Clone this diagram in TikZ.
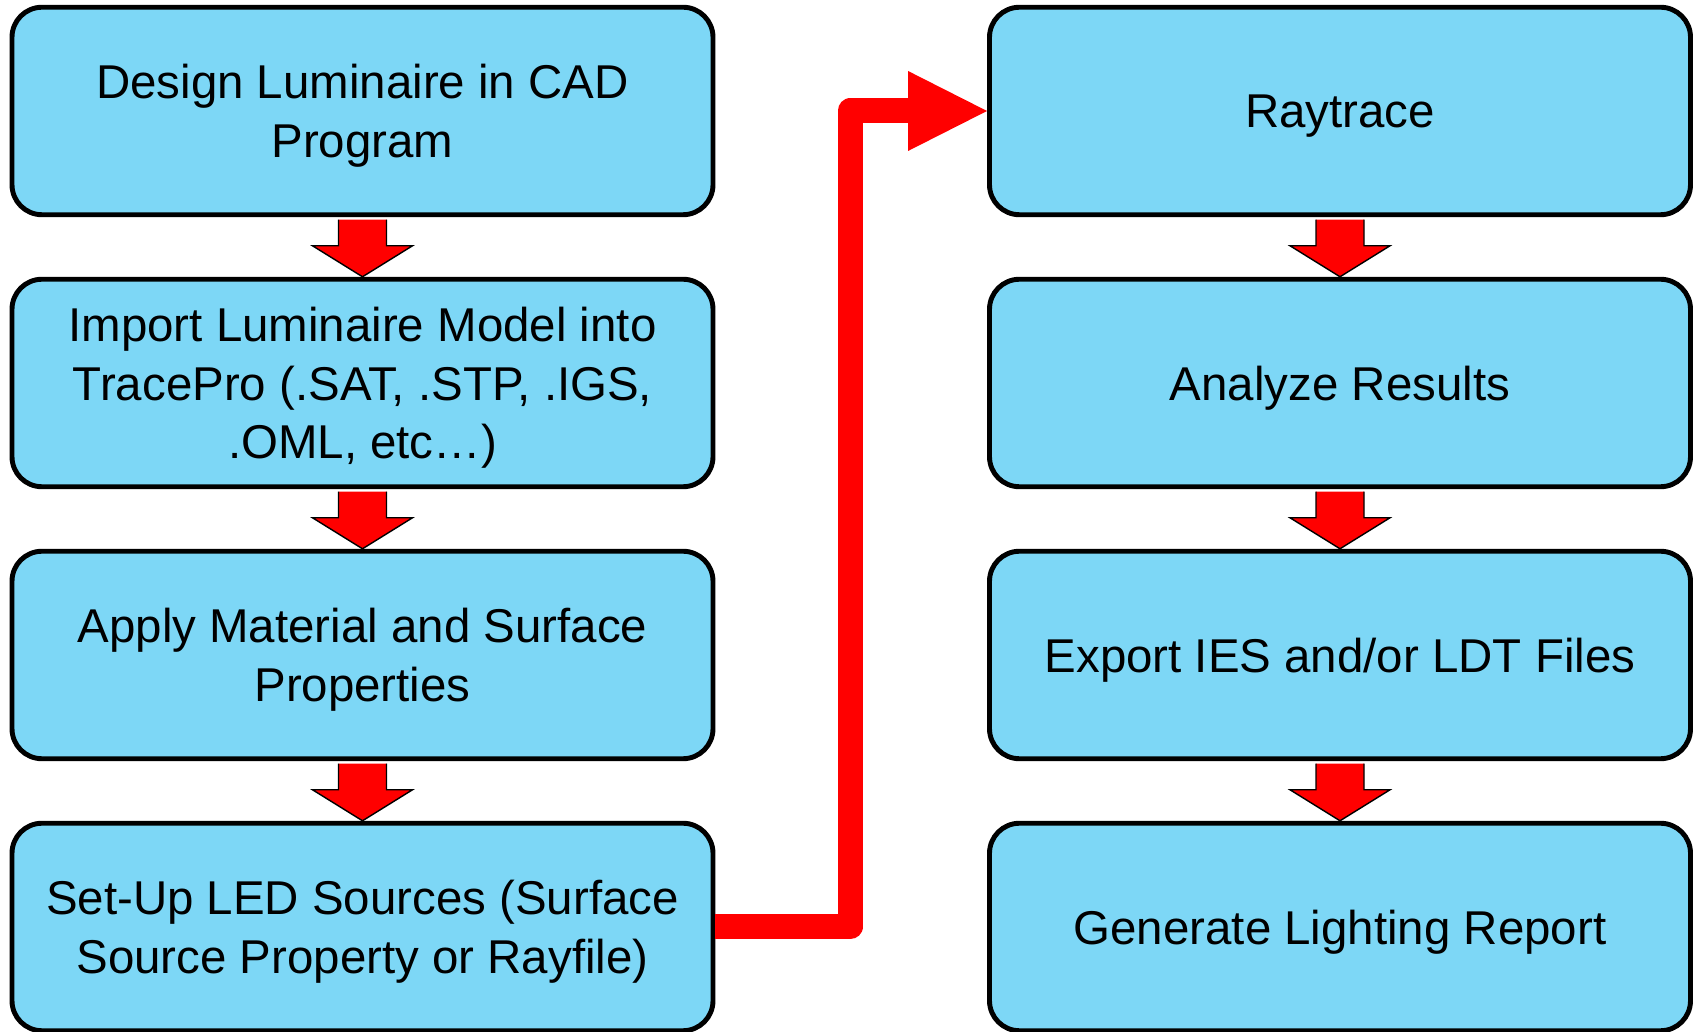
\documentclass[tikz,border=0pt]{standalone}
\usepackage{fontspec}
\setmainfont{Liberation Sans}
\usetikzlibrary{arrows.meta,calc}
\definecolor{boxblue}{RGB}{125,215,246}

\begin{document}
\begin{tikzpicture}
\tikzstyle{stepbox}=[draw,line width=2.8pt,fill=boxblue,rounded corners=0.6cm,minimum width=14.02cm,minimum height=4.15cm,align=center,text depth=0pt,font=\fontsize{27pt}{33.3pt}\selectfont]
\tikzstyle{downarrow}=[draw=black,line width=0.8pt,fill=red,line join=miter]
\tikzstyle{bigarrow}=[draw=red,line width=0.5cm,line join=round,-{Triangle[length=1.58cm,width=1.6cm,line width=0pt 0]}]
\useasboundingbox (0,0) rectangle (33.96,20.64);

\path (7.25,18.42) node[stepbox](cad){Design Luminaire in CAD\\Program}
 (7.25,12.98) node[stepbox](imp){Import Luminaire Model into\\TracePro (.SAT, .STP, .IGS,\\.OML, etc…)}
 (7.25,7.54) node[stepbox](mat){Apply Material and Surface\\Properties}
 (7.25,2.10) node[stepbox](led){Set-Up LED Sources (Surface\\Source Property or Rayfile)};

\path (26.8,18.42) node[stepbox](ray){Raytrace}
 (26.8,12.98) node[stepbox](ana){Analyze Results}
 (26.8,7.54) node[stepbox](exp){Export IES and/or LDT Files}
 (26.8,2.10) node[stepbox](rep){Generate Lighting Report};

\foreach \a/\b in {cad/imp,imp/mat,mat/led,ray/ana,ana/exp,exp/rep}
  \draw[downarrow] ($(\a.south)+(-0.48,-0.05)$) -- ($(\b.north)+(-0.48,0.62)$) -- ($(\b.north)+(-1,0.62)$) -- (\b.north) -- ($(\b.north)+(1,0.62)$) -- ($(\b.north)+(0.48,0.62)$) -- ($(\a.south)+(0.48,-0.05)$);

\coordinate (turn) at (17.0,10);
\draw[bigarrow] (led.east) -- (led.east -| turn) |- (ray.west);
\end{tikzpicture}
\end{document}
